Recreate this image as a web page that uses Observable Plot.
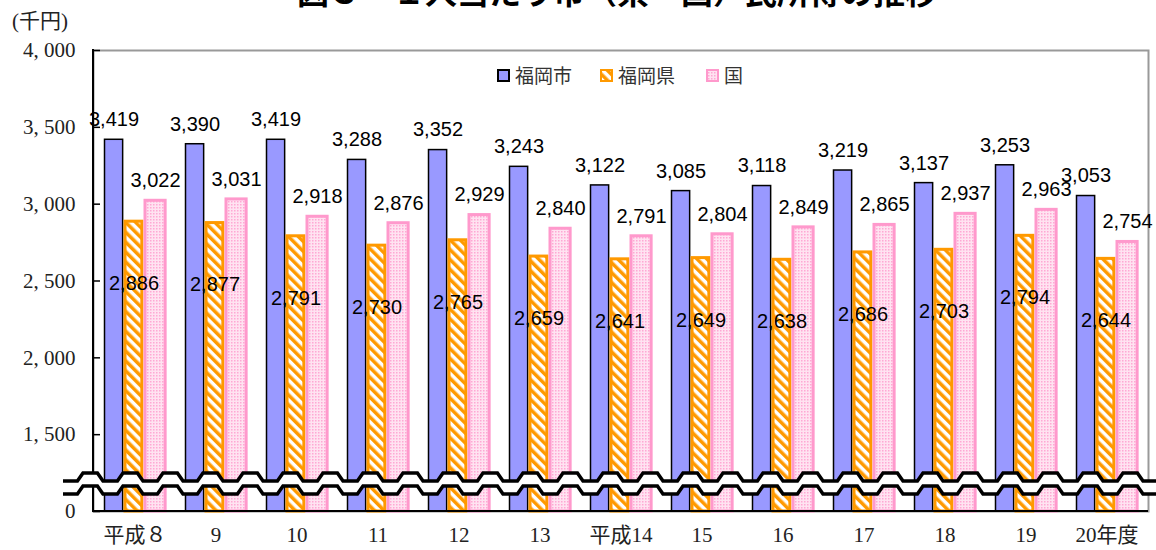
<!DOCTYPE html>
<html><head><meta charset="utf-8">
<script src="https://cdn.jsdelivr.net/npm/d3@7"></script>
<script src="https://cdn.jsdelivr.net/npm/@observablehq/plot@0.6"></script>
<style>
html,body{margin:0;padding:0;background:#fff;}
#wrap{position:relative;width:1156px;height:550px;overflow:hidden;}
#wrap > svg{position:absolute;left:0;top:0;}
</style></head><body>
<div id="wrap"></div>
<script>
// ---- data ----
const years = ["平成８","9","10","11","12","13","平成14","15","16","17","18","19","20年度"];
const fukuokaCity = [3419,3390,3419,3288,3352,3243,3122,3085,3118,3219,3137,3253,3053];
const fukuokaPref = [2886,2877,2791,2730,2765,2659,2641,2649,2638,2686,2703,2794,2644];
const japan       = [3022,3031,2918,2876,2929,2840,2791,2804,2849,2865,2937,2963,2754];
const seriesNames = ["福岡市","福岡県","国"];
const yTicks = [1000,1500,2000,2500,3000,3500,4000];
const yTickLabels = ["0","1, 500","2, 000","2, 500","3, 000","3, 500","4, 000"];
const titleText = "図３－１人当たり市（県・国）民所得の推移";
const unitText = "(千円)";

// ---- layout ----
const W = 1156, H = 550, mL = 93, mR = 8, mT = 50, mB = 39;
const bw = (W - mL - mR) / years.length;
const yFloor = yTicks[0];
const fmt = d3.format(",");
const serif = "'Liberation Serif', 'Noto Sans CJK JP', serif";
const sans = "'Liberation Sans', Arial, sans-serif";
const jp = "'Noto Sans CJK JP', sans-serif";

const rows = years.map((y, i) => ({year: y, city: fukuokaCity[i], pref: fukuokaPref[i], nat: japan[i]}));

function axisLines(index, scales, values, dims) {
  const g = d3.create("svg:g");
  const x0 = dims.marginLeft, yb = dims.height - dims.marginBottom, yt = dims.marginTop;
  const xr = dims.width - dims.marginRight;
  g.append("line").attr("x1", x0).attr("x2", x0).attr("y1", yt - 1).attr("y2", yb + 1)
    .attr("stroke", "#000").attr("stroke-width", 2);
  g.append("line").attr("x1", x0 - 1).attr("x2", xr).attr("y1", yb).attr("y2", yb)
    .attr("stroke", "#000").attr("stroke-width", 2);
  return g.node();
}

function wavePts(yc, xs, xe, P, A) {
  const pts = [];
  for (let x = xs; x < xe + P; x += P) {
    pts.push([x, yc + A], [x + P * 0.36, yc + A], [x + P * 0.5, yc - A], [x + P * 0.86, yc - A]);
  }
  return pts;
}

function breakMark(index, scales, values, dims) {
  const g = d3.create("svg:g");
  const yb = dims.height - dims.marginBottom;
  const xs = dims.marginLeft - 30, xe = dims.width + 10;
  const up = wavePts(yb - 34, xs, xe, 40, 4);
  const lo = wavePts(yb - 21, xs, xe, 40, 4);
  const line = d3.line();
  g.append("path").attr("d", line(up.concat(lo.slice().reverse())) + "Z").attr("fill", "#fff");
  g.append("path").attr("d", line(up)).attr("fill", "none").attr("stroke", "#000").attr("stroke-width", 3.5);
  g.append("path").attr("d", line(lo)).attr("fill", "none").attr("stroke", "#000").attr("stroke-width", 3.5);
  return g.node();
}

const chart = Plot.plot({
  width: W, height: H, marginLeft: mL, marginRight: mR, marginTop: mT, marginBottom: mB,
  style: {background: "white", fontFamily: serif},
  x: {domain: years, padding: 0},
  y: {domain: [yTicks[0], yTicks[yTicks.length - 1]]},
  marks: [
    Plot.frame({stroke: "#999", strokeWidth: 2}),
    Plot.barY(rows, {x: "year", y1: () => yFloor, y2: "city", fill: "#9999FF", stroke: "#000", strokeWidth: 1.5,
      insetLeft: 10.5, insetRight: bw - 28.8}),
    Plot.barY(rows, {x: "year", y1: () => yFloor, y2: "pref", fill: "url(#stripes)", stroke: "#FF9900", strokeWidth: 3,
      insetLeft: 31, insetRight: bw - 48}),
    Plot.barY(rows, {x: "year", y1: () => yFloor, y2: "nat", fill: "url(#dots)", stroke: "#FF99CC", strokeWidth: 3,
      insetLeft: 51, insetRight: bw - 71.3}),
    Plot.tickY(yTicks, {y: d => d, stroke: "#000", strokeWidth: 1.5, insetRight: W - mL - mR - 7}),
    axisLines,
    breakMark,
    Plot.axisY(yTicks, {tickSize: 0, tickPadding: 18, tickFormat: d => yTickLabels[yTicks.indexOf(d)],
      fontSize: 21, fontFamily: serif, fill: "#222", label: null}),
    Plot.axisX(years, {tickSize: 0, tickPadding: 16, fontSize: 21, fontFamily: serif, fill: "#222", label: null}),
    Plot.text(rows, {x: "year", y: "city", text: d => fmt(d.city), dx: -21, dy: -20, fontSize: 20, fontFamily: sans, fill: "#000"}),
    Plot.text(rows, {x: "year", y: "pref", text: d => fmt(d.pref), dx: -1, dy: 62, fontSize: 20, fontFamily: sans, fill: "#000"}),
    Plot.text(rows, {x: "year", y: "nat", text: d => fmt(d.nat), dx: 20.5, dy: -20, fontSize: 20, fontFamily: sans, fill: "#000"})
  ]
});
const wrap = document.getElementById("wrap");
wrap.appendChild(chart);

// ---- overlay: patterns, title, unit, legend ----
const ov = d3.select(wrap).append("svg").attr("width", W).attr("height", H).style("pointer-events", "none");
const defs = ov.append("defs");
const st = defs.append("pattern").attr("id", "stripes").attr("patternUnits", "userSpaceOnUse")
  .attr("width", 7).attr("height", 7).attr("patternTransform", "rotate(-45)");
st.append("rect").attr("width", 7).attr("height", 7).attr("fill", "#fff");
st.append("rect").attr("width", 3.5).attr("height", 7).attr("fill", "#FF9900");
const dt = defs.append("pattern").attr("id", "dots").attr("patternUnits", "userSpaceOnUse").attr("width", 3).attr("height", 3);
dt.append("rect").attr("width", 3).attr("height", 3).attr("fill", "#FFE3F1");
dt.append("rect").attr("width", 1.5).attr("height", 1.5).attr("fill", "#FFA8D4");

ov.append("text").attr("x", 617).attr("y", 4).attr("text-anchor", "middle").attr("font-size", 32)
  .attr("font-weight", "bold").attr("font-family", jp).attr("fill", "#000").text(titleText);
ov.append("text").attr("x", 12).attr("y", 28).attr("font-size", 21).attr("font-family", serif).attr("fill", "#222").text(unitText);

const legendX = [497, 600, 706];
const swFill = ["#9999FF", "url(#stripes)", "url(#dots)"];
const swStroke = ["#000", "#FF9900", "#FF99CC"];
seriesNames.forEach((name, i) => {
  ov.append("rect").attr("x", legendX[i] + 1).attr("y", 70).attr("width", 11).attr("height", 11)
    .attr("fill", swFill[i]).attr("stroke", swStroke[i]).attr("stroke-width", 2);
  ov.append("text").attr("x", legendX[i] + 18).attr("y", 83).attr("font-size", 19).attr("font-family", jp)
    .attr("fill", "#333").text(name);
});
</script>
</body></html>
